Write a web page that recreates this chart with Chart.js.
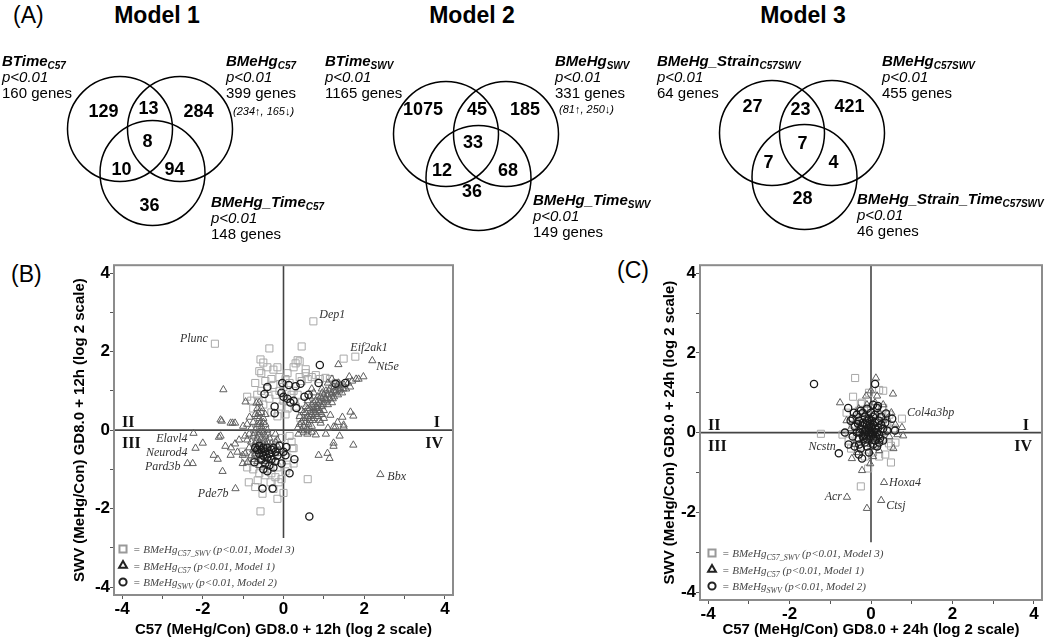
<!DOCTYPE html>
<html>
<head>
<meta charset="utf-8">
<script src="https://cdn.jsdelivr.net/npm/chart.js@4.4.1/dist/chart.umd.min.js"></script>
<style>
  body { margin: 0; background: #fff; }
  #page { position: relative; width: 1050px; height: 641px; overflow: hidden; font-family: Arial, "Liberation Sans", sans-serif; color: #000; }
  .abs { position: absolute; white-space: nowrap; }
  .panel { font-size: 23px; line-height: 27px; }
  .model { font-size: 23px; line-height: 27px; font-weight: bold; transform: translateX(-50%); }
  .set { font-size: 15px; line-height: 16px; }
  .set sub { font-size: 10px; vertical-align: -3px; line-height: 0; }
  .dir { font-size: 11px; font-style: italic; }
  canvas { position: absolute; }
</style>
</head>
<body>
<div id="page">
  <div class="abs panel" style="left:13px;top:2px">(A)</div>
  <div class="abs panel" style="left:11px;top:261px">(B)</div>
  <div class="abs panel" style="left:617px;top:257px">(C)</div>
  <canvas id="venn1" width="240" height="200"></canvas>
  <canvas id="venn2" width="240" height="200"></canvas>
  <canvas id="venn3" width="240" height="200"></canvas>
  <canvas id="chartB" width="392" height="386" style="left:67px;top:255px"></canvas>
  <canvas id="chartC" width="391" height="386" style="left:657px;top:255px"></canvas>
</div>
<script>
// ---------- (A) Venn diagrams ----------
const vennTitles = ['Model 1', 'Model 2', 'Model 3'];
// regions: A only, A&B, B only, A&B&C, A&C, B&C, C only
const vennCountsM1 = [129, 13, 284, 8, 10, 94, 36];
const vennCountsM2 = [1075, 45, 185, 33, 12, 68, 36];
const vennCountsM3 = [27, 23, 421, 7, 7, 4, 28];
const vennSetNames = [['BTime', 'BMeHg', 'BMeHg_Time'], ['BTime', 'BMeHg', 'BMeHg_Time'], ['BMeHg_Strain', 'BMeHg', 'BMeHg_Strain_Time']];
const vennSetSubs = [['C57', 'C57', 'C57'], ['SWV', 'SWV', 'SWV'], ['C57SWV', 'C57SWV', 'C57SWV']];
const vennTotals = [[160, 399, 148], [1165, 331, 149], [64, 455, 46]];
const vennDirections = ['(234\u2191, 165\u2193)', '(81\u2191, 250\u2193)', ''];

// ---------- (B) and (C) scatter ----------
const tickValues = [-4, -3, -2, -1, 0, 1, 2, 3, 4];
const tickLabels = ['-4', '', '-2', '', '0', '', '2', '', '4'];
const quadrantLabels = ['I', 'II', 'III', 'IV'];
const titleYB = 'SWV (MeHg/Con) GD8.0 + 12h (log 2 scale)';
const titleXB = 'C57 (MeHg/Con) GD8.0 + 12h (log 2 scale)';
const titleYC = 'SWV (MeHg/Con) GD8.0 + 24h (log 2 scale)';
const titleXC = 'C57 (MeHg/Con) GD8.0 + 24h (log 2 scale)';

// BMeHg C57_SWV (Model 3) - squares
const bSquares = [
  [-1.7, 2.2], [0.74, 2.77], [1.78, 1.87], [1.49, 1.82], [-0.35, 2.08], [0.45, 2.13],
  [-0.57, 1.8], [-0.5, 1.72], [-0.25, 1.54], [-0.6, 1.5], [-0.55, 1.45], [-0.4, 1.6], [-0.15, 1.6],
  [0.1, 1.45], [0.25, 1.6], [0.3, 1.7], [0.35, 1.78], [0.4, 1.75], [0.55, 1.55], [0.55, 1.45],
  [-0.1, 1.35], [0.05, 1.3], [-0.3, 1.3], [-0.45, 1.25], [-0.7, 1.2], [-0.9, 0.85], [-0.62, 0.75],
  [-0.5, 0.65], [-0.35, 0.8], [-0.2, 0.9], [-0.1, 1.0], [0.0, 0.75], [-0.05, 0.6], [0.1, 0.55],
  [0.2, 0.9], [0.25, 1.0], [0.35, 0.9], [0.15, 1.2], [0.4, 1.35], [0.45, 1.25], [0.6, 1.3],
  [0.7, 1.35], [0.8, 1.4], [0.9, 1.3], [1.04, 1.33], [1.15, 1.3], [1.3, 1.2], [1.2, 1.05],
  [1.45, 1.1], [-0.75, 0.55], [-0.3, 0.45], [-0.15, 0.35], [0.05, 0.4], [-0.4, 1.05], [-0.25, 1.15],
  [-0.55, 1.0], [-0.65, 0.9], [-0.8, 0.75], [0.0, 1.1], [0.3, 0.6], [0.45, 0.7], [0.42, 0.3],
  [-0.57, -2.07], [-0.15, -1.75], [0.0, -1.6], [-0.52, -1.62], [0.6, -1.25], [-0.86, -1.33],
  [-0.64, -1.28], [-0.32, -1.33], [-0.12, -1.33], [0.22, -0.46], [0.25, -0.85], [-0.9, -0.95],
  [-0.75, -1.0], [-0.6, -1.1], [-0.45, -1.15], [-0.3, -1.1], [-0.2, -1.2], [-0.05, -1.25],
  [0.05, -1.05], [-0.8, -0.8], [-0.95, -0.7], [-0.7, -0.6], [-0.1, -0.55], [0.1, -0.7],
  [-0.4, -1.0], [-0.15, -0.95], [-0.55, -0.9], [0.1, -0.95], [-0.25, -1.5], [-0.7, -1.45],
  [0.2, -0.3], [0.15, -0.15], [-0.05, -0.2], [-1.0, -0.55], [-0.3, -0.75], [0.25, -0.46]
];
// BMeHg C57 (Model 1) - triangles
const bTriangles = [
  [0.35, 0.05], [0.4, 0.15], [0.45, 0.0], [0.5, 0.3], [0.5, 0.1], [0.55, 0.45], [0.55, 0.2], [0.6, 0.35],
  [0.6, 0.0], [0.65, 0.55], [0.65, 0.25], [0.7, 0.4], [0.7, 0.65], [0.7, 0.1], [0.75, 0.5], [0.75, 0.3],
  [0.8, 0.6], [0.8, 0.75], [0.8, 0.45], [0.85, 0.55], [0.85, 0.85], [0.85, 0.35], [0.9, 0.7], [0.9, 0.5],
  [0.95, 0.8], [0.95, 0.6], [1.0, 0.7], [1.0, 0.9], [1.0, 0.5], [1.05, 0.8], [1.05, 1.0], [1.1, 0.65],
  [1.1, 0.9], [1.15, 0.8], [1.15, 1.05], [1.2, 0.95], [1.2, 0.7], [1.25, 1.1], [1.25, 0.85], [1.3, 1.0],
  [1.35, 0.9], [1.35, 1.15], [1.4, 1.05], [1.45, 0.95], [1.5, 1.15], [1.55, 1.05], [1.6, 1.2], [1.65, 1.1],
  [1.7, 1.25], [1.8, 1.3], [1.98, 1.36], [1.86, 1.3], [1.63, 1.36], [1.36, 1.2], [1.36, 1.67], [2.2, 1.77],
  [0.55, 0.6], [0.6, 0.75], [0.45, 0.5], [0.4, 0.35], [0.9, 0.25], [1.0, 0.3], [0.95, 1.05], [1.1, 1.2],
  [0.75, 0.95], [0.7, 1.05], [1.2, 1.3], [0.65, 0.85],
  [0.45, 0.2], [0.5, 0.45], [0.55, 0.3], [0.6, 0.55], [0.62, 0.15], [0.68, 0.45], [0.72, 0.25], [0.75, 0.7],
  [0.78, 0.4], [0.82, 0.55], [0.85, 0.65], [0.88, 0.45], [0.92, 0.85], [0.95, 0.4], [0.98, 0.65], [1.02, 0.8],
  [1.08, 0.75], [1.12, 1.0], [1.18, 0.9], [1.22, 0.8], [1.28, 0.95], [1.32, 1.1], [1.38, 1.0], [1.42, 1.15],
  [1.48, 1.05], [0.58, 0.05], [0.66, 0.35], [0.74, 0.58], [0.86, 0.75], [0.96, 0.95],
  [1.73, 0.36], [1.66, 0.46], [1.46, 0.33], [1.16, 0.38], [1.29, 0.08], [1.49, 0.08], [1.73, -0.38],
  [1.24, -0.33], [0.87, -0.64], [1.09, -0.59], [1.14, -0.72], [1.24, -0.41], [1.39, -0.15], [0.37, -0.1],
  [0.59, -0.1], [0.92, 0.18], [1.24, 0.08], [1.49, 0.13], [1.34, 0.2], [2.4, -1.13], [0.5, -0.05],
  [0.7, -0.05], [0.8, -0.12], [1.05, -0.1], [1.1, 0.05],
  [-0.6, 0.7], [-0.65, 0.55], [-0.55, 0.45], [-0.7, 0.4], [-0.6, 0.3], [-0.5, 0.3], [-0.75, 0.2], [-0.65, 0.15],
  [-0.55, 0.1], [-0.45, 0.15], [-0.8, 0.05], [-0.7, 0.0], [-0.6, -0.05], [-0.5, -0.05], [-0.4, 0.0], [-0.85, -0.1],
  [-0.75, -0.15], [-0.65, -0.2], [-0.55, -0.2], [-0.45, -0.15], [-0.35, -0.2], [-0.9, -0.25], [-0.8, -0.3],
  [-0.7, -0.35], [-0.6, -0.3], [-0.5, -0.35], [-0.4, -0.3], [-0.3, -0.35], [-0.2, -0.3], [-0.85, -0.45],
  [-0.75, -0.5], [-0.65, -0.45], [-0.55, -0.5], [-0.45, -0.45], [-0.35, -0.5], [-0.25, -0.45], [-0.15, -0.4],
  [-0.95, -0.6], [-0.8, -0.65], [-0.7, -0.6], [-0.6, -0.65], [-0.5, -0.6], [-0.4, -0.65], [-0.3, -0.6],
  [-0.2, -0.6], [-0.1, -0.5], [-0.75, -0.75], [-0.65, -0.8], [-0.55, -0.75], [-0.45, -0.8], [-0.35, -0.75],
  [-0.25, -0.7], [-0.6, -0.9], [-0.7, -0.5], [-0.5, 0.2], [-0.65, 0.35], [-0.55, 0.55], [-0.45, 0.4],
  [-0.62, -0.12], [-0.58, -0.4], [-0.48, -0.25], [-0.52, -0.55], [-0.68, -0.28], [-0.72, -0.08], [-0.42, -0.38],
  [-0.38, -0.1], [-0.6, 0.15], [-0.55, 0.0], [-0.66, -0.55], [-0.46, -0.7],
  [-2.23, -0.08], [-2.0, -0.33], [-2.18, -0.46], [-2.38, -0.85], [-2.25, -0.85], [-1.73, -0.64], [-1.63, -0.74],
  [-1.51, -1.05], [-1.44, -0.41], [-1.31, -0.64], [-1.19, -1.49], [-1.56, -0.15], [-1.14, -0.56], [-1.01, -0.64],
  [-1.01, -0.85], [-0.89, -0.82], [-1.53, 0.23], [-1.26, 0.18], [-1.49, 1.03], [-0.94, 0.72], [-0.67, 0.69],
  [-1.6, -0.18], [-1.56, 0.26], [-1.31, 0.18], [-1.2, 0.18], [-0.84, 0.33], [-0.62, 0.43], [-0.57, 0.2],
  [-1.2, -0.35], [-1.1, -0.25], [-0.95, -0.15], [-1.0, 0.1], [-0.9, 0.15], [-1.3, -0.45], [-0.2, -0.1], [-0.15, -0.25]
];
// BMeHg SWV (Model 2) - circles
const bCircles = [
  [0.9, 1.66], [-0.4, 1.1], [-0.47, 0.92], [-0.22, 0.6], [-0.22, 0.43], [-0.03, 1.2], [0.13, 1.15], [0.3, 1.12],
  [0.42, 1.18], [0.0, 0.85], [0.17, 0.7], [0.32, 0.56], [0.52, 0.85], [0.62, 0.9], [0.87, 1.2], [1.29, 1.18],
  [1.53, 1.2], [0.1, 0.8], [-0.05, 0.95], [0.25, 0.75],
  [-0.72, -0.82], [-0.52, -1.49], [-0.27, -1.49], [0.64, -2.2], [0.27, -0.74], [0.15, -1.1], [0.05, -0.64],
  [0.07, -0.43], [-0.6, -0.4], [-0.55, -0.5], [-0.5, -0.45], [-0.45, -0.55], [-0.4, -0.45], [-0.35, -0.6],
  [-0.3, -0.5], [-0.25, -0.45], [-0.6, -0.6], [-0.5, -0.65], [-0.4, -0.7], [-0.3, -0.75], [-0.2, -0.55],
  [-0.15, -0.65], [-0.45, -0.85], [-0.35, -0.9], [-0.55, -0.75], [-0.25, -0.95], [-0.1, -0.4], [-0.65, -0.5],
  [-0.5, -1.0], [-0.4, -1.05], [-0.2, -0.8], [0.0, -0.55], [-0.7, -0.45], [-0.05, -0.85]
];
const bGenes = ['Plunc', 'Dep1', 'Eif2ak1', 'Nt5e', 'Elavl4', 'Neurod4', 'Pard3b', 'Pde7b', 'Bbx'];
const bGenePoints = [[-1.7, 2.2], [0.74, 2.77], [1.78, 1.87], [2.2, 1.77], [-2.23, -0.08], [-2.18, -0.46], [-2.38, -0.85], [-1.19, -1.49], [2.4, -1.13]];

const cSquares = [
  [-0.39, 1.37], [0.2, 1.07], [-0.44, 0.9], [-0.25, 0.72], [0.3, 0.62], [0.76, 0.35], [-1.23, -0.03], [0.49, -0.75],
  [-0.25, -1.35], [-0.07, -0.9], [0.44, -0.27], [-0.49, -0.4], [0.49, -0.33], [0.3, 1.05], [-0.05, 1.0], [-0.6, 0.5],
  [0.55, 0.1], [-0.7, -0.05], [0.35, -0.55], [0.05, -0.5], [-0.15, -0.6], [-0.35, -0.15], [-0.2, 0.35], [0.15, 0.3],
  [-0.45, 0.2], [0.25, 0.45], [0.4, 0.2], [-0.1, 0.55], [-0.3, 0.55], [0.1, -0.3], [-0.25, -0.35], [0.3, -0.15],
  [-0.55, -0.2], [0.6, -0.25], [0.0, 0.6], [-0.15, 0.15], [0.1, 0.1], [0.45, 0.45], [-0.35, 0.35], [0.2, -0.6],
  [-0.05, -0.1], [-0.22, 0.75], [0.27, 0.62]
];
const cTriangles = [
  [0.12, 1.37], [0.54, 0.97], [-0.76, 0.75], [-0.12, 0.92], [0.15, 0.92], [0.79, -0.08], [0.76, 0.13], [-0.47, -0.65],
  [-0.22, -0.95], [-0.02, -0.78], [0.32, -1.25], [-0.59, -1.62], [0.25, -1.7], [-0.1, -1.9], [0.12, -0.37], [0.5, 0.5],
  [0.3, 0.3], [-0.3, 0.6], [-0.1, 0.7], [0.1, 0.75], [0.35, 0.0], [0.45, -0.1], [0.6, 0.2], [-0.5, 0.1],
  [-0.4, -0.3], [0.2, -0.45], [0.0, -0.3], [-0.2, -0.2], [0.15, 0.15], [-0.05, 0.3], [0.25, -0.1], [-0.3, 0.2],
  [0.4, 0.35], [0.05, -0.6], [-0.15, 0.45], [0.3, 0.7], [-0.35, -0.5], [0.55, -0.4], [0.0, 1.05], [0.2, 0.5],
  [-0.6, 0.3], [0.65, -0.05]
];
const cCircles = [
  [-1.4, 1.22], [0.1, 1.22], [0.15, 0.62], [-0.56, 0.62], [-0.42, 0.5], [0.17, 0.67], [0.37, 0.48], [0.52, 0.35],
  [0.59, 0.05], [-0.64, 0.0], [-0.79, -0.52], [-0.22, -0.65], [-0.29, -0.3],
  [-0.3, 0.3], [-0.2, 0.25], [-0.1, 0.2], [0.0, 0.15], [0.1, 0.1], [-0.25, 0.1], [-0.15, 0.05], [-0.05, 0.0],
  [0.05, -0.05], [0.15, 0.0], [-0.35, 0.0], [-0.2, -0.1], [-0.1, -0.15], [0.0, -0.1], [0.1, -0.2], [0.2, -0.05],
  [-0.3, -0.15], [-0.15, -0.25], [0.05, -0.3], [-0.05, 0.35], [0.05, 0.4], [-0.15, 0.4], [0.25, 0.2], [0.3, 0.1],
  [-0.4, 0.15], [-0.45, -0.1], [0.2, 0.3], [-0.05, 0.1], [0.0, 0.0], [0.1, 0.25], [-0.25, -0.4], [-0.1, -0.35],
  [0.15, -0.35], [0.3, -0.2], [-0.35, 0.45], [-0.2, 0.5], [0.0, 0.5], [-0.5, 0.3], [-0.55, -0.3], [0.4, 0.05],
  [-0.1, 0.6], [0.05, 0.7], [-0.3, -0.55], [0.35, 0.25], [-0.05, -0.5], [0.25, 0.4], [-0.25, 0.55], [0.1, 0.45],
  [-0.4, -0.35], [0.2, -0.25], [-0.45, 0.35], [0.05, 0.2], [-0.15, -0.05],
  [-0.12, 0.08], [-0.02, 0.22], [0.08, 0.02], [-0.22, 0.18], [0.12, -0.1], [-0.08, -0.05], [0.02, 0.3],
  [-0.18, -0.15], [0.18, 0.12], [-0.28, 0.0], [0.04, -0.18], [-0.1, 0.3], [0.22, -0.15], [-0.32, 0.22]
];
const cGenes = ['Col4a3bp', 'Ncstn', 'Hoxa4', 'Acr', 'Ctsj'];
const cGenePoints = [[0.76, 0.35], [-0.79, -0.52], [0.32, -1.25], [-0.59, -1.62], [0.25, -1.7]];

const legendNames = ['BMeHg', 'BMeHg', 'BMeHg'];
const legendSubs = ['C57_SWV', 'C57', 'SWV'];
const legendTails = [' (p<0.01, Model 3)', ' (p<0.01, Model 1)', ' (p<0.01, Model 2)'];

// ---------- layout ----------
const SANS = 'Arial, "Liberation Sans", sans-serif';
const SERIF = '"Times New Roman", "Liberation Serif", serif';
const AX_MIN = -4.2, AX_MAX = 4.2, VLINE_END = -2.75;
const VENN_W = 240, VENN_H = 200, VENN_TOP = 75, VENN_R = 52.5;
const vennCenters = [[149.5, 129], [476, 134], [801.5, 133]];
const vennCircleOffsets = [[-30, 0], [30, 0], [2.5, 44]];
const vennCountOffsets = [
  [[-46.5, -17], [-1.5, -20], [48.5, -17], [-2.5, 13], [-28.5, 41], [24.5, 41], [-0.5, 77]],
  [[-53, -24], [1, -24], [49, -24], [-3, 9], [-34, 37], [32, 37], [-4, 58]],
  [[-49.5, -26], [-1.5, -23], [47.5, -26], [0.5, 11], [-33.5, 30], [31.5, 30], [0.5, 66]]
];
const vennTitleX = [157, 472, 803];
const vennSetPos = [[[2, 53], [226, 53], [211, 194]], [[325, 53], [555, 53], [533, 192]], [[657, 53], [882, 53], [857, 191]]];
const vennDirPos = [[233, 105], [559, 103]];
// gene label placement: [align, dx, dy]
const bGeneLayout = [['right', -7, -5], ['left', 6, -7], ['left', -5, -9], ['left', 4, 6], ['right', -6, 6],
  ['right', -8, 5], ['right', -7, 3], ['right', -7, 5], ['left', 7, 2]];
const cGeneLayout = [['left', 5, -6], ['right', -3, -6], ['left', 5, 0], ['right', -5, 0], ['left', 5, 5]];

Chart.defaults.font.family = SANS;

// ---------- build Venn text ----------
const page = document.getElementById('page');
function addDiv(cls, x, y, html) {
  const d = document.createElement('div');
  d.className = 'abs ' + cls;
  d.style.left = x + 'px';
  d.style.top = y + 'px';
  d.innerHTML = html;
  page.appendChild(d);
}
vennTitles.forEach((t, m) => {
  addDiv('model', vennTitleX[m], 2, t);
  for (let s = 0; s < 3; s++) {
    const [x, y] = vennSetPos[m][s];
    addDiv('set', x, y, `<b><i>${vennSetNames[m][s]}<sub>${vennSetSubs[m][s]}</sub></i></b><br><i>p&lt;0.01</i><br>${vennTotals[m][s]} genes`);
  }
  if (vennDirections[m]) addDiv('dir', vennDirPos[m][0], vennDirPos[m][1], vennDirections[m]);
});

function vennChart(id, m, counts) {
  const el = document.getElementById(id);
  el.style.left = (vennCenters[m][0] - VENN_W / 2) + 'px';
  el.style.top = (vennCenters[m][1] - VENN_TOP) + 'px';
  new Chart(el, {
    type: 'scatter',
    data: {
      datasets: [{
        data: vennCircleOffsets.map(([x, y]) => ({ x, y })),
        pointRadius: VENN_R,
        pointHoverRadius: VENN_R,
        borderColor: '#000',
        borderWidth: 1.5,
        backgroundColor: 'rgba(0,0,0,0)',
        clip: false
      }]
    },
    options: {
      responsive: false,
      animation: false,
      events: [],
      layout: { padding: 0, autoPadding: false },
      plugins: { legend: { display: false }, tooltip: { enabled: false } },
      scales: {
        x: { display: false, min: -VENN_W / 2, max: VENN_W / 2 },
        y: { display: false, reverse: true, min: -VENN_TOP, max: VENN_H - VENN_TOP }
      }
    },
    plugins: [{
      id: 'vennCounts',
      afterDatasetsDraw(chart) {
        const { ctx, scales: { x, y } } = chart;
        ctx.save();
        ctx.font = 'bold 18px ' + SANS;
        ctx.fillStyle = '#000';
        ctx.textAlign = 'center';
        ctx.textBaseline = 'middle';
        counts.forEach((c, i) => {
          const [ox, oy] = vennCountOffsets[m][i];
          ctx.fillText(String(c), x.getPixelForValue(ox), y.getPixelForValue(oy));
        });
        ctx.restore();
      }
    }]
  });
}
vennChart('venn1', 0, vennCountsM1);
vennChart('venn2', 1, vennCountsM2);
vennChart('venn3', 2, vennCountsM3);

// ---------- scatter panels ----------
function decor(genes, genePts, geneLayout, legendOffset) {
  return {
    id: 'decor',
    afterDatasetsDraw(chart) {
      const { ctx, chartArea: a, scales: { x, y } } = chart;
      ctx.save();
      ctx.strokeStyle = '#8c8c8c';
      ctx.lineWidth = 2;
      ctx.strokeRect(a.left, a.top, a.right - a.left, a.bottom - a.top);

      const y0 = y.getPixelForValue(0);
      ctx.font = 'bold 16px ' + SERIF;
      ctx.fillStyle = '#111';
      ctx.textBaseline = 'alphabetic';
      ctx.textAlign = 'left';
      ctx.fillText(quadrantLabels[1], a.left + 8, y0 - 3);
      ctx.fillText(quadrantLabels[2], a.left + 8, y0 + 18);
      ctx.textAlign = 'right';
      ctx.fillText(quadrantLabels[0], a.right - 13, y0 - 3);
      ctx.fillText(quadrantLabels[3], a.right - 10, y0 + 18);

      ctx.font = 'italic 12px ' + SERIF;
      ctx.fillStyle = '#333';
      ctx.textBaseline = 'middle';
      genes.forEach((g, i) => {
        const [al, dx, dy] = geneLayout[i];
        ctx.textAlign = al;
        ctx.fillText(g, x.getPixelForValue(genePts[i][0]) + dx, y.getPixelForValue(genePts[i][1]) + dy);
      });

      const styles = [['rect', 5, '#999'], ['triangle', 4.5, '#222'], ['circle', 3.6, '#222']];
      ctx.textAlign = 'left';
      ctx.textBaseline = 'alphabetic';
      for (let i = 0; i < 3; i++) {
        const mx = a.left + legendOffset[0];
        const my = a.bottom - legendOffset[1] + i * 16.5;
        ctx.strokeStyle = styles[i][2];
        ctx.fillStyle = 'rgba(0,0,0,0)';
        Chart.helpers.drawPoint(ctx, { pointStyle: styles[i][0], radius: styles[i][1], rotation: 0, borderWidth: 1.4 }, mx, my);
        ctx.fillStyle = '#444';
        let tx = mx + 10;
        const base = my + 4;
        ctx.font = 'italic 11px ' + SERIF;
        const head = '= ' + legendNames[i];
        ctx.fillText(head, tx, base);
        tx += ctx.measureText(head).width;
        ctx.font = 'italic 8px ' + SERIF;
        ctx.fillText(legendSubs[i], tx, base + 3);
        tx += ctx.measureText(legendSubs[i]).width;
        ctx.font = 'italic 11px ' + SERIF;
        ctx.fillText(legendTails[i], tx, base);
      }
      ctx.restore();
    }
  };
}

function axis(title, isX, size) {
  return {
    type: 'linear',
    min: AX_MIN,
    max: AX_MAX,
    afterBuildTicks: s => { s.ticks = tickValues.map(v => ({ value: v })); },
    afterFit: s => { if (isX) s.height = size; else s.width = size; },
    ticks: {
      autoSkip: false,
      maxRotation: 0,
      padding: 0,
      color: '#000',
      font: { size: 17, weight: 'bold', family: SANS },
      callback: v => tickLabels[tickValues.indexOf(v)]
    },
    grid: { drawOnChartArea: false, drawTicks: true, tickLength: 4, color: '#555' },
    border: { display: false },
    title: {
      display: true,
      text: title,
      color: '#000',
      font: { size: 15, weight: 'bold', family: SANS },
      padding: { top: 4, bottom: 2 }
    }
  };
}

function pts(arr) { return arr.map(([x, y]) => ({ x, y })); }

function scatterChart(id, squares, triangles, circles, titles, xAxisH, yAxisW, genes, genePts, geneLayout, legendOffset) {
  new Chart(document.getElementById(id), {
    type: 'scatter',
    data: {
      datasets: [
        { data: pts(circles), pointStyle: 'circle', pointRadius: 3.6, borderColor: '#1a1a1a', borderWidth: 1.3, backgroundColor: 'rgba(0,0,0,0)', order: 0 },
        { data: pts(triangles), pointStyle: 'triangle', pointRadius: 4.2, borderColor: '#5f5f5f', borderWidth: 1, backgroundColor: 'rgba(0,0,0,0)', order: 1 },
        { data: pts(squares), pointStyle: 'rect', pointRadius: 5, borderColor: '#a8a8a8', borderWidth: 1, backgroundColor: 'rgba(0,0,0,0)', order: 2 },
        { data: [{ x: AX_MIN, y: 0 }, { x: AX_MAX, y: 0 }], showLine: true, pointRadius: 0, borderColor: '#444', borderWidth: 1.6, order: 3 },
        { data: [{ x: 0, y: AX_MAX }, { x: 0, y: VLINE_END }], showLine: true, pointRadius: 0, borderColor: '#444', borderWidth: 1.6, order: 3 }
      ]
    },
    options: {
      responsive: false,
      animation: false,
      events: [],
      layout: { padding: { top: 10, right: 6, left: 0, bottom: 0 }, autoPadding: false },
      plugins: { legend: { display: false }, tooltip: { enabled: false } },
      scales: {
        x: axis(titles[0], true, xAxisH),
        y: axis(titles[1], false, yAxisW)
      }
    },
    plugins: [decor(genes, genePts, geneLayout, legendOffset)]
  });
}

scatterChart('chartB', bSquares, bTriangles, bCircles, [titleXB, titleYB], 46, 47, bGenes, bGenePoints, bGeneLayout, [9, 46]);
scatterChart('chartC', cSquares, cTriangles, cCircles, [titleXC, titleYC], 41, 43, cGenes, cGenePoints, cGeneLayout, [12, 47]);
</script>
</body>
</html>
